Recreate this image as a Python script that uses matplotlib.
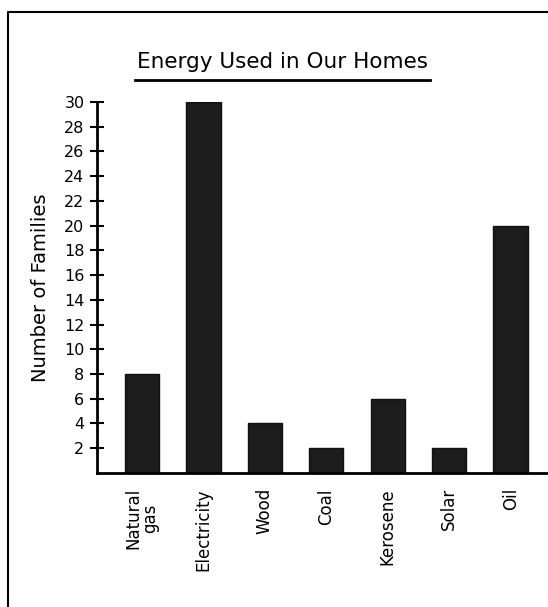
import numpy as np
import matplotlib.pyplot as plt
from matplotlib.lines import Line2D

# data
sources = ['Natural\ngas', 'Electricity', 'Wood', 'Coal', 'Kerosene', 'Solar', 'Oil']
families = [8, 30, 4, 2, 6, 2, 20]
y_ticks = list(range(2, 31, 2))

plt.rcParams['font.family'] = ['DejaVu Sans']

fig = plt.figure(figsize=(5.48, 6.07), dpi=100)
ax = fig.add_axes([0.177, 0.221, 0.821, 0.611])

x = np.arange(len(sources))
ax.bar(x, families, width=0.56, color='#1c1c1c', edgecolor='#111111', linewidth=1)

ax.set_xlim(-0.73, 6.59)
ax.set_ylim(0, 30)
ax.set_yticks(y_ticks)
ax.set_yticklabels([str(v) for v in y_ticks], fontsize=11.5)
ax.set_xticks(x)
ax.set_xticklabels(sources, rotation=90, fontsize=12, va='top', linespacing=0.9)
ax.tick_params(axis='x', length=0, pad=11)
ax.tick_params(axis='y', direction='inout', length=10, width=1.5, pad=4)

for s in ['top', 'right']:
    ax.spines[s].set_visible(False)
ax.spines['left'].set_linewidth(2)
ax.spines['bottom'].set_linewidth(2)

ax.set_ylabel('Number of Families', fontsize=14, labelpad=10)

# title with hand-drawn underline
fig.text(0.515, 0.898, 'Energy Used in Our Homes', ha='center', va='center', fontsize=15.5)
fig.add_artist(Line2D([135 / 548, 430 / 548], [1 - 80 / 607, 1 - 80 / 607],
                      color='black', lw=2, transform=fig.transFigure))

# outer frame (left and top edges)
fig.add_artist(Line2D([8 / 548, 8 / 548, 1.0], [0.0, 1 - 12 / 607, 1 - 12 / 607],
                      color='black', lw=1.5, transform=fig.transFigure))

fig.savefig('out.png', dpi=100)
